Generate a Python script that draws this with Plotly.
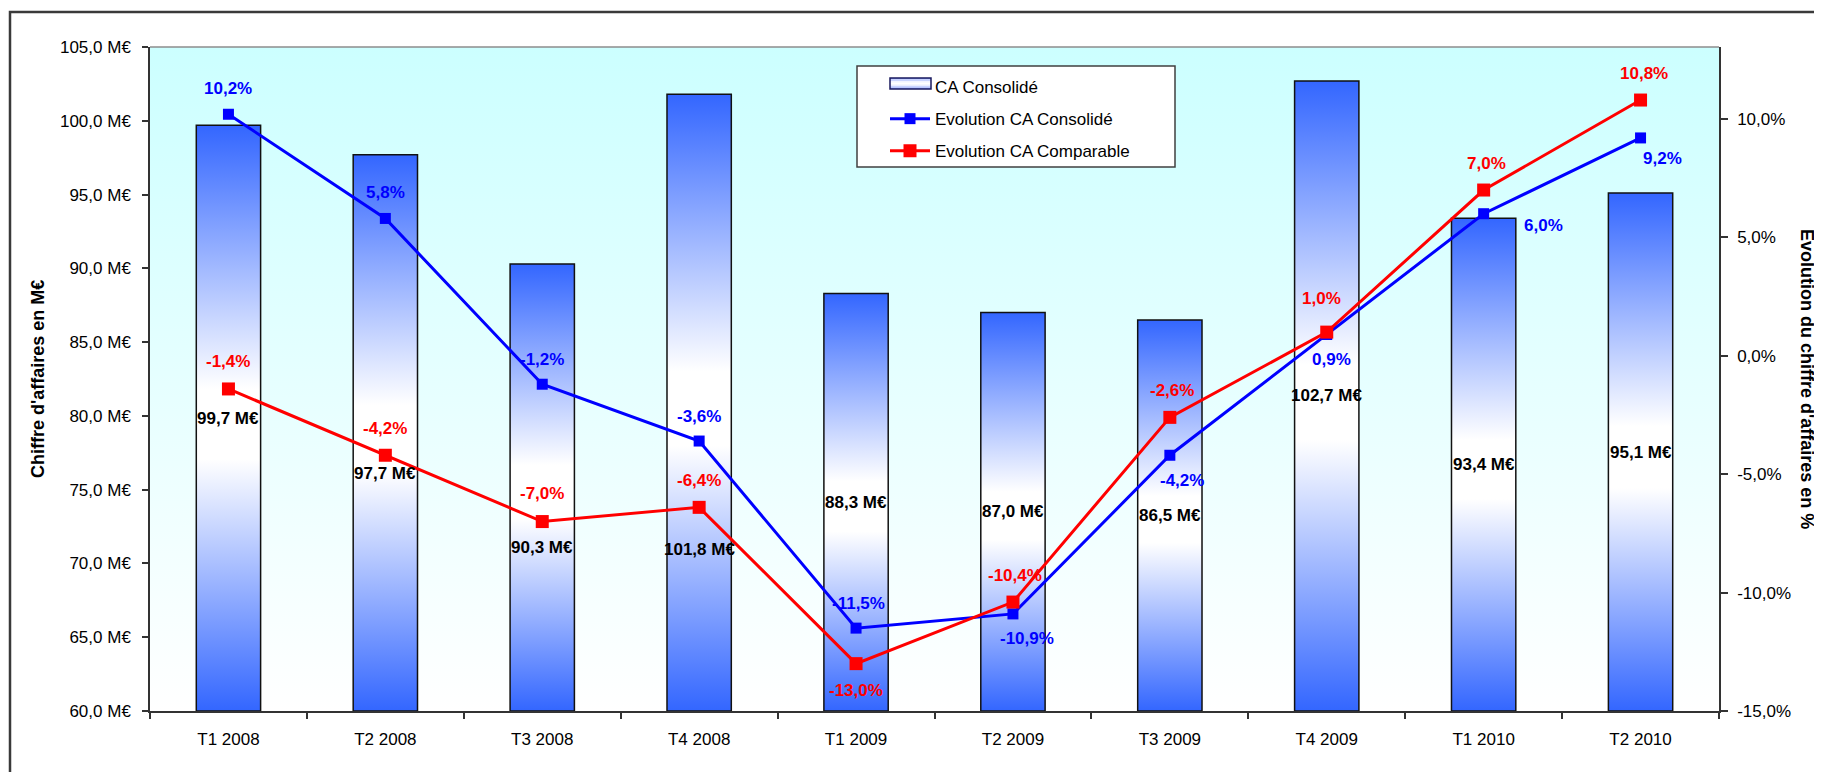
import plotly.graph_objects as go

# ---------------- data ----------------
categories = ["T1 2008", "T2 2008", "T3 2008", "T4 2008", "T1 2009",
              "T2 2009", "T3 2009", "T4 2009", "T1 2010", "T2 2010"]
ca_consolide = [99.7, 97.7, 90.3, 101.8, 88.3, 87.0, 86.5, 102.7, 93.4, 95.1]
evol_consolide = [10.2, 5.8, -1.2, -3.6, -11.5, -10.9, -4.2, 0.9, 6.0, 9.2]
evol_comparable = [-1.4, -4.2, -7.0, -6.4, -13.0, -10.4, -2.6, 1.0, 7.0, 10.8]

y_tickvals = [60, 65, 70, 75, 80, 85, 90, 95, 100, 105]
y_ticktext = ["60,0 M€", "65,0 M€", "70,0 M€", "75,0 M€", "80,0 M€",
              "85,0 M€", "90,0 M€", "95,0 M€", "100,0 M€", "105,0 M€"]
y2_tickvals = [-15, -10, -5, 0, 5, 10]
y2_ticktext = ["-15,0%", "-10,0%", "-5,0%", "0,0%", "5,0%", "10,0%"]

# ---------------- style ----------------
Y_MIN, Y_MAX = 60, 105
Y2_MIN, Y2_MAX = -15, 13.04
BAR_W = 0.41
FONT = "Liberation Sans, Arial, sans-serif"
BLUE_BAR = "#3366FF"
# page geometry (browser adds an 8px body margin)
BODY = 8
PAGE_W, PAGE_H = 1822, 780
FIG_W, FIG_H = PAGE_W - BODY, PAGE_H - 2 * BODY
PL, PR, PT, PB = 150, 1719, 47, 711   # plot area on the page
PW, PH = PR - PL, PB - PT


def px(xp):
    return (xp - PL) / PW


def py(yp):
    return (PB - yp) / PH


# label shifts (pixels)
bar_label_yshift = [0, -41, -60, -147, 0, 0, 0, 0, 0, 0]
blue_label_shift = [(0, 26), (0, 26), (0, 25), (0, 25), (2, 25),
                    (14, -25), (12, -25), (5, -25), (60, -12), (22, -21)]
red_label_shift = [(0, 27), (0, 27), (0, 28), (0, 27), (0, -27),
                   (2, 27), (2, 27), (-5, 34), (3, 27), (3, 27)]

n = len(categories)
xs = list(range(n))

fig = go.Figure()

# plot-area background gradient
fig.add_trace(go.Scatter(
    x=[-0.5, n - 0.5, n - 0.5, -0.5, -0.5],
    y=[Y_MIN, Y_MIN, Y_MAX, Y_MAX, Y_MIN],
    mode="lines", line=dict(width=0), fill="toself",
    fillgradient=dict(type="vertical",
                      colorscale=[[0, "#FFFFFF"], [1, "#CCFFFF"]]),
    hoverinfo="skip", showlegend=False))

# bars with vertical gradient
for i, v in enumerate(ca_consolide):
    x0, x1 = i - BAR_W / 2, i + BAR_W / 2
    fig.add_trace(go.Scatter(
        x=[x0, x0, x1, x1, x0],
        y=[Y_MIN, v, v, Y_MIN, Y_MIN],
        mode="lines", line=dict(color="#111111", width=1.5),
        fill="toself",
        fillgradient=dict(type="vertical",
                          colorscale=[[0, BLUE_BAR], [0.43, "#FFFFFF"],
                                      [0.55, "#FFFFFF"], [1, BLUE_BAR]]),
        name="CA Consolidé", showlegend=False, hoverinfo="skip"))

# legend entry for the bars (swatch drawn as shapes)
fig.add_trace(go.Scatter(
    x=[None], y=[None], mode="lines",
    line=dict(color="rgba(0,0,0,0)", width=0),
    name="CA Consolidé", legendgroup="a"))

fig.add_trace(go.Scatter(
    x=xs, y=evol_consolide, yaxis="y2", mode="lines+markers",
    line=dict(color="#0000FF", width=3),
    marker=dict(symbol="square", size=11, color="#0000FF"),
    name="Evolution CA Consolidé", legendgroup="b"))
fig.add_trace(go.Scatter(
    x=xs, y=evol_comparable, yaxis="y2", mode="lines+markers",
    line=dict(color="#FF0000", width=3),
    marker=dict(symbol="square", size=13, color="#FF0000"),
    name="Evolution CA Comparable", legendgroup="c"))

annotations = []
for i, v in enumerate(ca_consolide):
    annotations.append(dict(
        x=i, y=(Y_MIN + v) / 2, xref="x", yref="y", showarrow=False,
        text="<b>" + f"{v:.1f} M€".replace(".", ",") + "</b>",
        yshift=bar_label_yshift[i],
        font=dict(family=FONT, size=17, color="#000000")))
for vals, shifts, col in [(evol_consolide, blue_label_shift, "#0000FF"),
                          (evol_comparable, red_label_shift, "#FF0000")]:
    for i, v in enumerate(vals):
        annotations.append(dict(
            x=i, y=v, xref="x", yref="y2", showarrow=False,
            text="<b>" + f"{v:.1f}%".replace(".", ",") + "</b>",
            xshift=shifts[i][0], yshift=shifts[i][1],
            font=dict(family=FONT, size=17, color=col)))

# axis titles
annotations.append(dict(
    x=px(38), y=0.5, xref="paper", yref="paper", showarrow=False,
    xanchor="center", yanchor="middle",
    text="<b>Chiffre d'affaires en M€</b>", textangle=-90,
    font=dict(family=FONT, size=18, color="#000000")))
annotations.append(dict(
    x=px(1807), y=0.5, xref="paper", yref="paper", showarrow=False,
    xanchor="center", yanchor="middle",
    text="<b>Evolution du chiffre d'affaires en %</b>", textangle=90,
    font=dict(family=FONT, size=18, color="#000000")))

shapes = [
    # outer chart border (left/top visible)
    dict(type="rect", xref="paper", yref="paper",
         x0=px(10), x1=px(1850), y0=py(800), y1=py(12),
         line=dict(color="#3a3a3a", width=2.5), layer="below"),
    # top border of plot area
    dict(type="line", xref="paper", yref="paper", x0=0, x1=1, y0=1, y1=1,
         line=dict(color="#8c8c8c", width=1.5), layer="above"),
    # legend box
    dict(type="rect", xref="paper", yref="paper",
         x0=px(857), x1=px(1175), y0=py(167), y1=py(66),
         fillcolor="#FFFFFF", line=dict(color="#404040", width=1.5),
         layer="above"),
]
# legend swatch for the bars: stacked stripes imitating the gradient
stripe_colors = ["#8FA6FF", "#C9D4FF", "#F2F5FF", "#FFFFFF",
                 "#F2F5FF", "#C9D4FF", "#8FA6FF"]
sw_top, sw_bot = 78, 89
h = (sw_bot - sw_top) / len(stripe_colors)
for k, c in enumerate(stripe_colors):
    shapes.append(dict(type="rect", xref="paper", yref="paper",
                       x0=px(890), x1=px(931),
                       y0=py(sw_top + (k + 1) * h), y1=py(sw_top + k * h),
                       fillcolor=c, line=dict(width=0), layer="above"))
shapes.append(dict(type="rect", xref="paper", yref="paper",
                   x0=px(890), x1=px(931), y0=py(sw_bot), y1=py(sw_top),
                   line=dict(color="#1a1a5e", width=1.5), layer="above"))

fig.update_layout(
    width=FIG_W, height=FIG_H, autosize=False,
    margin=dict(l=PL - BODY, r=FIG_W - (PR - BODY), t=PT - BODY,
                b=FIG_H - (PB - BODY), pad=0),
    paper_bgcolor="#FFFFFF", plot_bgcolor="#FFFFFF",
    font=dict(family=FONT, size=17, color="#000000"),
    showlegend=True,
    legend=dict(x=px(885), y=py(69),
                xanchor="left", yanchor="top",
                bgcolor="rgba(0,0,0,0)", borderwidth=0,
                font=dict(family=FONT, size=17, color="#000000"),
                traceorder="grouped", tracegroupgap=7, itemwidth=40),
    xaxis=dict(range=[-0.5, n - 0.5], tickmode="array", tickvals=xs,
               ticktext=categories, ticks="", showgrid=False, zeroline=False,
               showline=True, linecolor="#333333", linewidth=1.5,
               ticklabelstandoff=12,
               tickfont=dict(family=FONT, size=17, color="#000000"),
               minor=dict(tickmode="array",
                          tickvals=[i - 0.5 for i in range(n + 1)],
                          ticks="outside", ticklen=6, tickcolor="#333333",
                          tickwidth=1.5, showgrid=False)),
    yaxis=dict(range=[Y_MIN, Y_MAX], tickmode="array", tickvals=y_tickvals,
               ticktext=y_ticktext, ticks="outside", ticklen=6,
               tickcolor="#333333", tickwidth=1.5, showgrid=False,
               zeroline=False, showline=True, linecolor="#333333",
               linewidth=1.5, ticklabelstandoff=8,
               tickfont=dict(family=FONT, size=17, color="#000000")),
    yaxis2=dict(range=[Y2_MIN, Y2_MAX], overlaying="y", side="right",
                tickmode="array", tickvals=y2_tickvals, ticktext=y2_ticktext,
                ticks="outside", ticklen=7, tickcolor="#333333",
                tickwidth=1.5, showgrid=False, zeroline=False,
                showline=True, linecolor="#333333", linewidth=1.5,
                ticklabelstandoff=6,
                tickfont=dict(family=FONT, size=17, color="#000000")),
    annotations=annotations,
    shapes=shapes,
)

fig.write_html("out.html")
